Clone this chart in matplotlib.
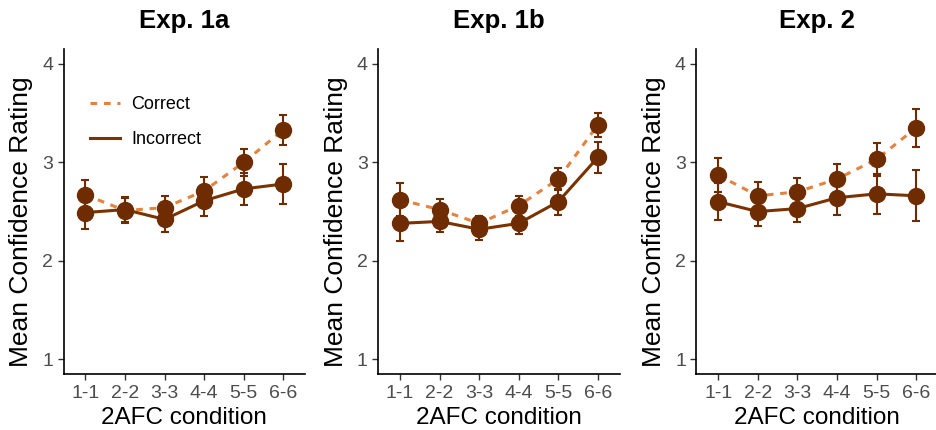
import matplotlib.pyplot as plt
import numpy as np

plt.rcParams['font.family'] = ['Liberation Sans', 'DejaVu Sans']

conditions = ['1-1', '2-2', '3-3', '4-4', '5-5', '6-6']
titles = ['Exp. 1a', 'Exp. 1b', 'Exp. 2']

# mean confidence and standard errors, per experiment
correct_1a = [2.67, 2.51, 2.54, 2.71, 3.00, 3.33]
correct_1a_se = [0.15, 0.13, 0.12, 0.14, 0.14, 0.15]
incorrect_1a = [2.49, 2.52, 2.42, 2.61, 2.73, 2.78]
incorrect_1a_se = [0.17, 0.13, 0.13, 0.15, 0.16, 0.20]

correct_1b = [2.62, 2.52, 2.38, 2.56, 2.83, 3.38]
correct_1b_se = [0.17, 0.11, 0.08, 0.10, 0.11, 0.12]
incorrect_1b = [2.38, 2.40, 2.32, 2.38, 2.60, 3.05]
incorrect_1b_se = [0.18, 0.11, 0.11, 0.11, 0.13, 0.16]

correct_2 = [2.87, 2.66, 2.70, 2.83, 3.03, 3.35]
correct_2_se = [0.17, 0.14, 0.14, 0.15, 0.17, 0.19]
incorrect_2 = [2.60, 2.50, 2.53, 2.64, 2.68, 2.66]
incorrect_2_se = [0.19, 0.15, 0.14, 0.17, 0.20, 0.26]

correct = [correct_1a, correct_1b, correct_2]
correct_se = [correct_1a_se, correct_1b_se, correct_2_se]
incorrect = [incorrect_1a, incorrect_1b, incorrect_2]
incorrect_se = [incorrect_1a_se, incorrect_1b_se, incorrect_2_se]

col_correct = '#E5823F'
col_incorrect = '#7A3300'
col_point = '#6E2C00'

fig = plt.figure(figsize=(9.36, 4.3), dpi=100)
lefts = [0.068, 0.404, 0.744]
x = np.arange(1, 7)

for i in range(3):
    ax = fig.add_axes([lefts[i], 0.130, 0.258, 0.756])
    ax.plot(x, correct[i], color=col_correct, lw=2.2, ls=(0, (2.2, 2.2)), label='Correct', zorder=2)
    ax.plot(x, incorrect[i], color=col_incorrect, lw=2.2, label='Incorrect', zorder=2)
    ax.errorbar(x, correct[i], yerr=correct_se[i], fmt='o', color=col_point, ms=11.5,
                elinewidth=1.5, capsize=3.2, capthick=1.5, zorder=3)
    ax.errorbar(x, incorrect[i], yerr=incorrect_se[i], fmt='o', color=col_point, ms=11.5,
                elinewidth=1.5, capsize=3.2, capthick=1.5, zorder=3)

    ax.set_xlim(0.45, 6.55)
    ax.set_ylim(0.85, 4.15)
    ax.set_xticks(x)
    ax.set_xticklabels(conditions)
    ax.set_yticks([1, 2, 3, 4])
    ax.tick_params(labelsize=14, labelcolor='#4D4D4D', color='#333333', length=4, width=1)
    for s in ['top', 'right']:
        ax.spines[s].set_visible(False)
    for s in ['left', 'bottom']:
        ax.spines[s].set_linewidth(1.2)
    ax.set_xlabel('2AFC condition', fontsize=17.5)
    ax.set_ylabel('Mean Confidence Rating', fontsize=19)
    ax.xaxis.set_label_coords(0.5, -0.102)
    ax.yaxis.set_label_coords(-0.125, 0.47)
    ax.set_title(titles[i], fontsize=18.5, fontweight='bold', pad=15)

    if i == 0:
        ax.legend(loc='upper left', bbox_to_anchor=(0.108, 0.855), frameon=False,
                  fontsize=13, handlelength=1.7, labelspacing=1.0, handletextpad=0.6,
                  borderpad=0, borderaxespad=0)

fig.savefig('out.png', dpi=100)
